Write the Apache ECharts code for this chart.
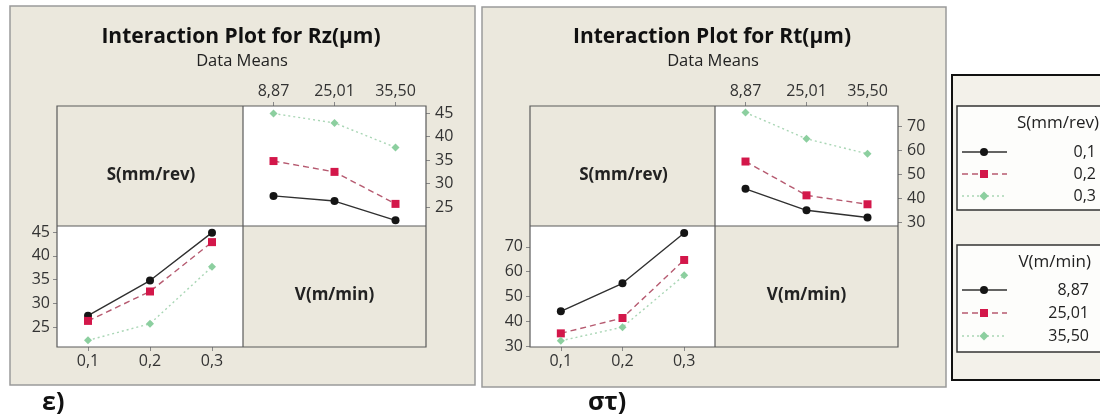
<!DOCTYPE html>
<html>
<head>
<meta charset="utf-8">
<script src="https://cdn.jsdelivr.net/npm/echarts@6.0.0/dist/echarts.min.js"></script>
<style>
  html, body { margin: 0; padding: 0; background: #fff; }
  #main { width: 1100px; height: 419px; }
</style>
</head>
<body>
<div id="main"></div>
<script>
// factor levels
var sLevels = ['0,1', '0,2', '0,3'];
var vLevels = ['8,87', '25,01', '35,50'];

// means, one row per S level, columns follow vLevels
var rzMeans = [
    [27.4, 26.3, 22.2],
    [34.8, 32.5, 25.7],
    [44.9, 42.9, 37.7]
];
var rtMeans = [
    [44.0, 35.1, 32.1],
    [55.3, 41.3, 37.6],
    [75.6, 64.7, 58.5]
];

// tick labels of the y axes
var rzTicks = [25, 30, 35, 40, 45];
var rtTicks = [30, 40, 50, 60, 70];

var chart = echarts.init(document.getElementById('main'));

var FONT = '"Open Sans", sans-serif';
var BEIGE = '#ebe8dd';
var LINE = '#5a5a5a';

// black / red / green styles, same for S and V lines
var styles = [
    { color: '#151515', lineColor: '#303030', type: 'solid', symbol: 'circle', size: 8 },
    { color: '#d3174a', lineColor: '#b65a70', type: [6, 4], symbol: 'rect', size: 8 },
    { color: '#8ccf9f', lineColor: '#a9d6b5', type: [2, 3], symbol: 'diamond', size: 8 }
];

function column(table, j) {
    return table.map(function (row) { return row[j]; });
}

// two panels: left Rz, right Rt
var panels = [
    { name: 'Rz', means: rzMeans, ticks: rzTicks, x0: 57, xm: 243, x1: 426,
      topMin: 21, topMax: 46.5, botMin: 20.8, botMax: 46.3 },
    { name: 'Rt', means: rtMeans, ticks: rtTicks, x0: 530, xm: 715, x1: 898,
      topMin: 28.6, topMax: 78.3, botMin: 29.6, botMax: 78.4 }
];
var yTop = 106, yMid = 226, yBot = 347;

var grids = [], xAxes = [], yAxes = [], series = [];

panels.forEach(function (p, pi) {
    // top-right cell: response vs V, one line per S
    grids.push({ left: p.xm, top: yTop, width: p.x1 - p.xm, height: yMid - yTop });
    // bottom-left cell: response vs S, one line per V
    grids.push({ left: p.x0, top: yMid, width: p.xm - p.x0, height: yBot - yMid });

    var labelStyle = { color: '#333', fontFamily: FONT, fontSize: 16 };

    xAxes.push({
        gridIndex: pi * 2, type: 'category', position: 'top', data: vLevels,
        axisLine: { show: false },
        axisTick: { show: true, alignWithLabel: true, inside: false, length: 4, lineStyle: { color: '#888' } },
        axisLabel: Object.assign({ margin: 7 }, labelStyle)
    });
    xAxes.push({
        gridIndex: pi * 2 + 1, type: 'category', position: 'bottom', data: sLevels,
        axisLine: { show: false },
        axisTick: { show: true, alignWithLabel: true, length: 4, lineStyle: { color: '#888' } },
        axisLabel: Object.assign({ margin: 6 }, labelStyle)
    });
    yAxes.push({
        gridIndex: pi * 2, type: 'value', position: 'right',
        min: p.topMin, max: p.topMax,
        splitLine: { show: false },
        axisLine: { show: false },
        axisTick: { show: true, length: 4, lineStyle: { color: '#888' }, customValues: p.ticks },
        axisLabel: Object.assign({ margin: 9, customValues: p.ticks }, labelStyle)
    });
    yAxes.push({
        gridIndex: pi * 2 + 1, type: 'value', position: 'left',
        min: p.botMin, max: p.botMax,
        splitLine: { show: false },
        axisLine: { show: false },
        axisTick: { show: true, length: 4, lineStyle: { color: '#888' }, customValues: p.ticks },
        axisLabel: Object.assign({ margin: 7, customValues: p.ticks }, labelStyle)
    });

    for (var k = 0; k < 3; k++) {
        var st = styles[k];
        var common = {
            type: 'line', symbol: st.symbol, symbolSize: st.size,
            itemStyle: { color: st.color },
            lineStyle: { color: st.lineColor, width: 1.4, type: st.type },
            silent: true, animation: false
        };
        series.push(Object.assign({
            name: p.name + ' S ' + sLevels[k],
            xAxisIndex: pi * 2, yAxisIndex: pi * 2,
            data: p.means[k]
        }, common));
        series.push(Object.assign({
            name: p.name + ' V ' + vLevels[k],
            xAxisIndex: pi * 2 + 1, yAxisIndex: pi * 2 + 1,
            data: column(p.means, k)
        }, common));
    }
});

// frames, cells, titles
var g = [];
var frames = [
    { x: 10, y: 6, w: 465, h: 379, cx: 241, title: 'Interaction Plot for Rz(\u03bcm)' },
    { x: 482, y: 7, w: 464, h: 380, cx: 712, title: 'Interaction Plot for Rt(\u03bcm)' }
];
frames.forEach(function (f, i) {
    var p = panels[i];
    g.push({ type: 'rect', z: -10, shape: { x: f.x, y: f.y, width: f.w, height: f.h },
        style: { fill: BEIGE, stroke: '#9a9a9a', lineWidth: 1.5 } });
    g.push({ type: 'text', z: 5, x: f.cx, y: 37,
        style: { text: f.title, font: 'bold 21px ' + FONT, fill: '#111', align: 'center', verticalAlign: 'middle' } });
    g.push({ type: 'text', z: 5, x: f.cx + 1, y: 61,
        style: { text: 'Data Means', font: '16.5px ' + FONT, fill: '#222', align: 'center', verticalAlign: 'middle' } });
    // white data cells
    g.push({ type: 'rect', z: -5, shape: { x: p.xm, y: yTop, width: p.x1 - p.xm, height: yMid - yTop },
        style: { fill: '#fff' } });
    g.push({ type: 'rect', z: -5, shape: { x: p.x0, y: yMid, width: p.xm - p.x0, height: yBot - yMid },
        style: { fill: '#fff' } });
    // matrix border and dividers
    g.push({ type: 'rect', z: 50, shape: { x: p.x0, y: yTop, width: p.x1 - p.x0, height: yBot - yTop },
        style: { fill: null, stroke: LINE, lineWidth: 1.2 } });
    g.push({ type: 'line', z: 50, shape: { x1: p.xm, y1: yTop, x2: p.xm, y2: yBot },
        style: { stroke: LINE, lineWidth: 1.2 } });
    g.push({ type: 'line', z: 50, shape: { x1: p.x0, y1: yMid, x2: p.x1, y2: yMid },
        style: { stroke: LINE, lineWidth: 1.2 } });
    // factor names in the diagonal cells
    g.push({ type: 'text', z: 5, x: (p.x0 + p.xm) / 2 + 1, y: 175,
        style: { text: 'S(mm/rev)', font: 'bold 17px ' + FONT, fill: '#222', align: 'center', verticalAlign: 'middle' } });
    g.push({ type: 'text', z: 5, x: (p.xm + p.x1) / 2, y: 295,
        style: { text: 'V(m/min)', font: 'bold 17px ' + FONT, fill: '#222', align: 'center', verticalAlign: 'middle' } });
});

// sub-figure letters
g.push({ type: 'text', x: 42, y: 403, style: { text: '\u03b5)', font: 'bold 25px ' + FONT, fill: '#111', verticalAlign: 'middle' } });
g.push({ type: 'text', x: 588, y: 403, style: { text: '\u03c3\u03c4)', font: 'bold 25px ' + FONT, fill: '#111', verticalAlign: 'middle' } });

// legend block on the right
g.push({ type: 'rect', z: -10, shape: { x: 952, y: 75, width: 160, height: 305 },
    style: { fill: '#f3f1ea', stroke: '#111', lineWidth: 2 } });
var legendBoxes = [
    { top: 106, bottom: 210, head: 'S(mm/rev)', headRight: 1099, labels: sLevels, valRight: 1096, rows: [152, 174, 196] },
    { top: 245, bottom: 352, head: 'V(m/min)', headRight: 1091, labels: vLevels, valRight: 1089, rows: [290, 313, 336] }
];
legendBoxes.forEach(function (b) {
    g.push({ type: 'rect', z: -8, shape: { x: 957, y: b.top, width: 160, height: b.bottom - b.top },
        style: { fill: '#fdfdfb', stroke: '#333', lineWidth: 1.5 } });
    g.push({ type: 'text', x: b.headRight, y: b.top + 17,
        style: { text: b.head, font: '17px ' + FONT, fill: '#222', align: 'right', verticalAlign: 'middle' } });
    b.labels.forEach(function (lab, k) {
        var st = styles[k], y = b.rows[k];
        g.push({ type: 'line', shape: { x1: 962, y1: y, x2: 1007, y2: y },
            style: { stroke: st.lineColor, lineWidth: 1.4, lineDash: st.type === 'solid' ? null : st.type } });
        if (st.symbol === 'circle') {
            g.push({ type: 'circle', shape: { cx: 984, cy: y, r: 4 }, style: { fill: st.color } });
        } else if (st.symbol === 'rect') {
            g.push({ type: 'rect', shape: { x: 980, y: y - 4, width: 8, height: 8 }, style: { fill: st.color } });
        } else {
            g.push({ type: 'polygon', shape: { points: [[984, y - 4.5], [988.5, y], [984, y + 4.5], [979.5, y]] }, style: { fill: st.color } });
        }
        g.push({ type: 'text', x: b.valRight, y: y,
            style: { text: lab, font: '16px ' + FONT, fill: '#222', align: 'right', verticalAlign: 'middle' } });
    });
});

chart.setOption({
    animation: false,
    backgroundColor: '#fff',
    grid: grids,
    xAxis: xAxes,
    yAxis: yAxes,
    series: series,
    graphic: { elements: g }
});
</script>
</body>
</html>
